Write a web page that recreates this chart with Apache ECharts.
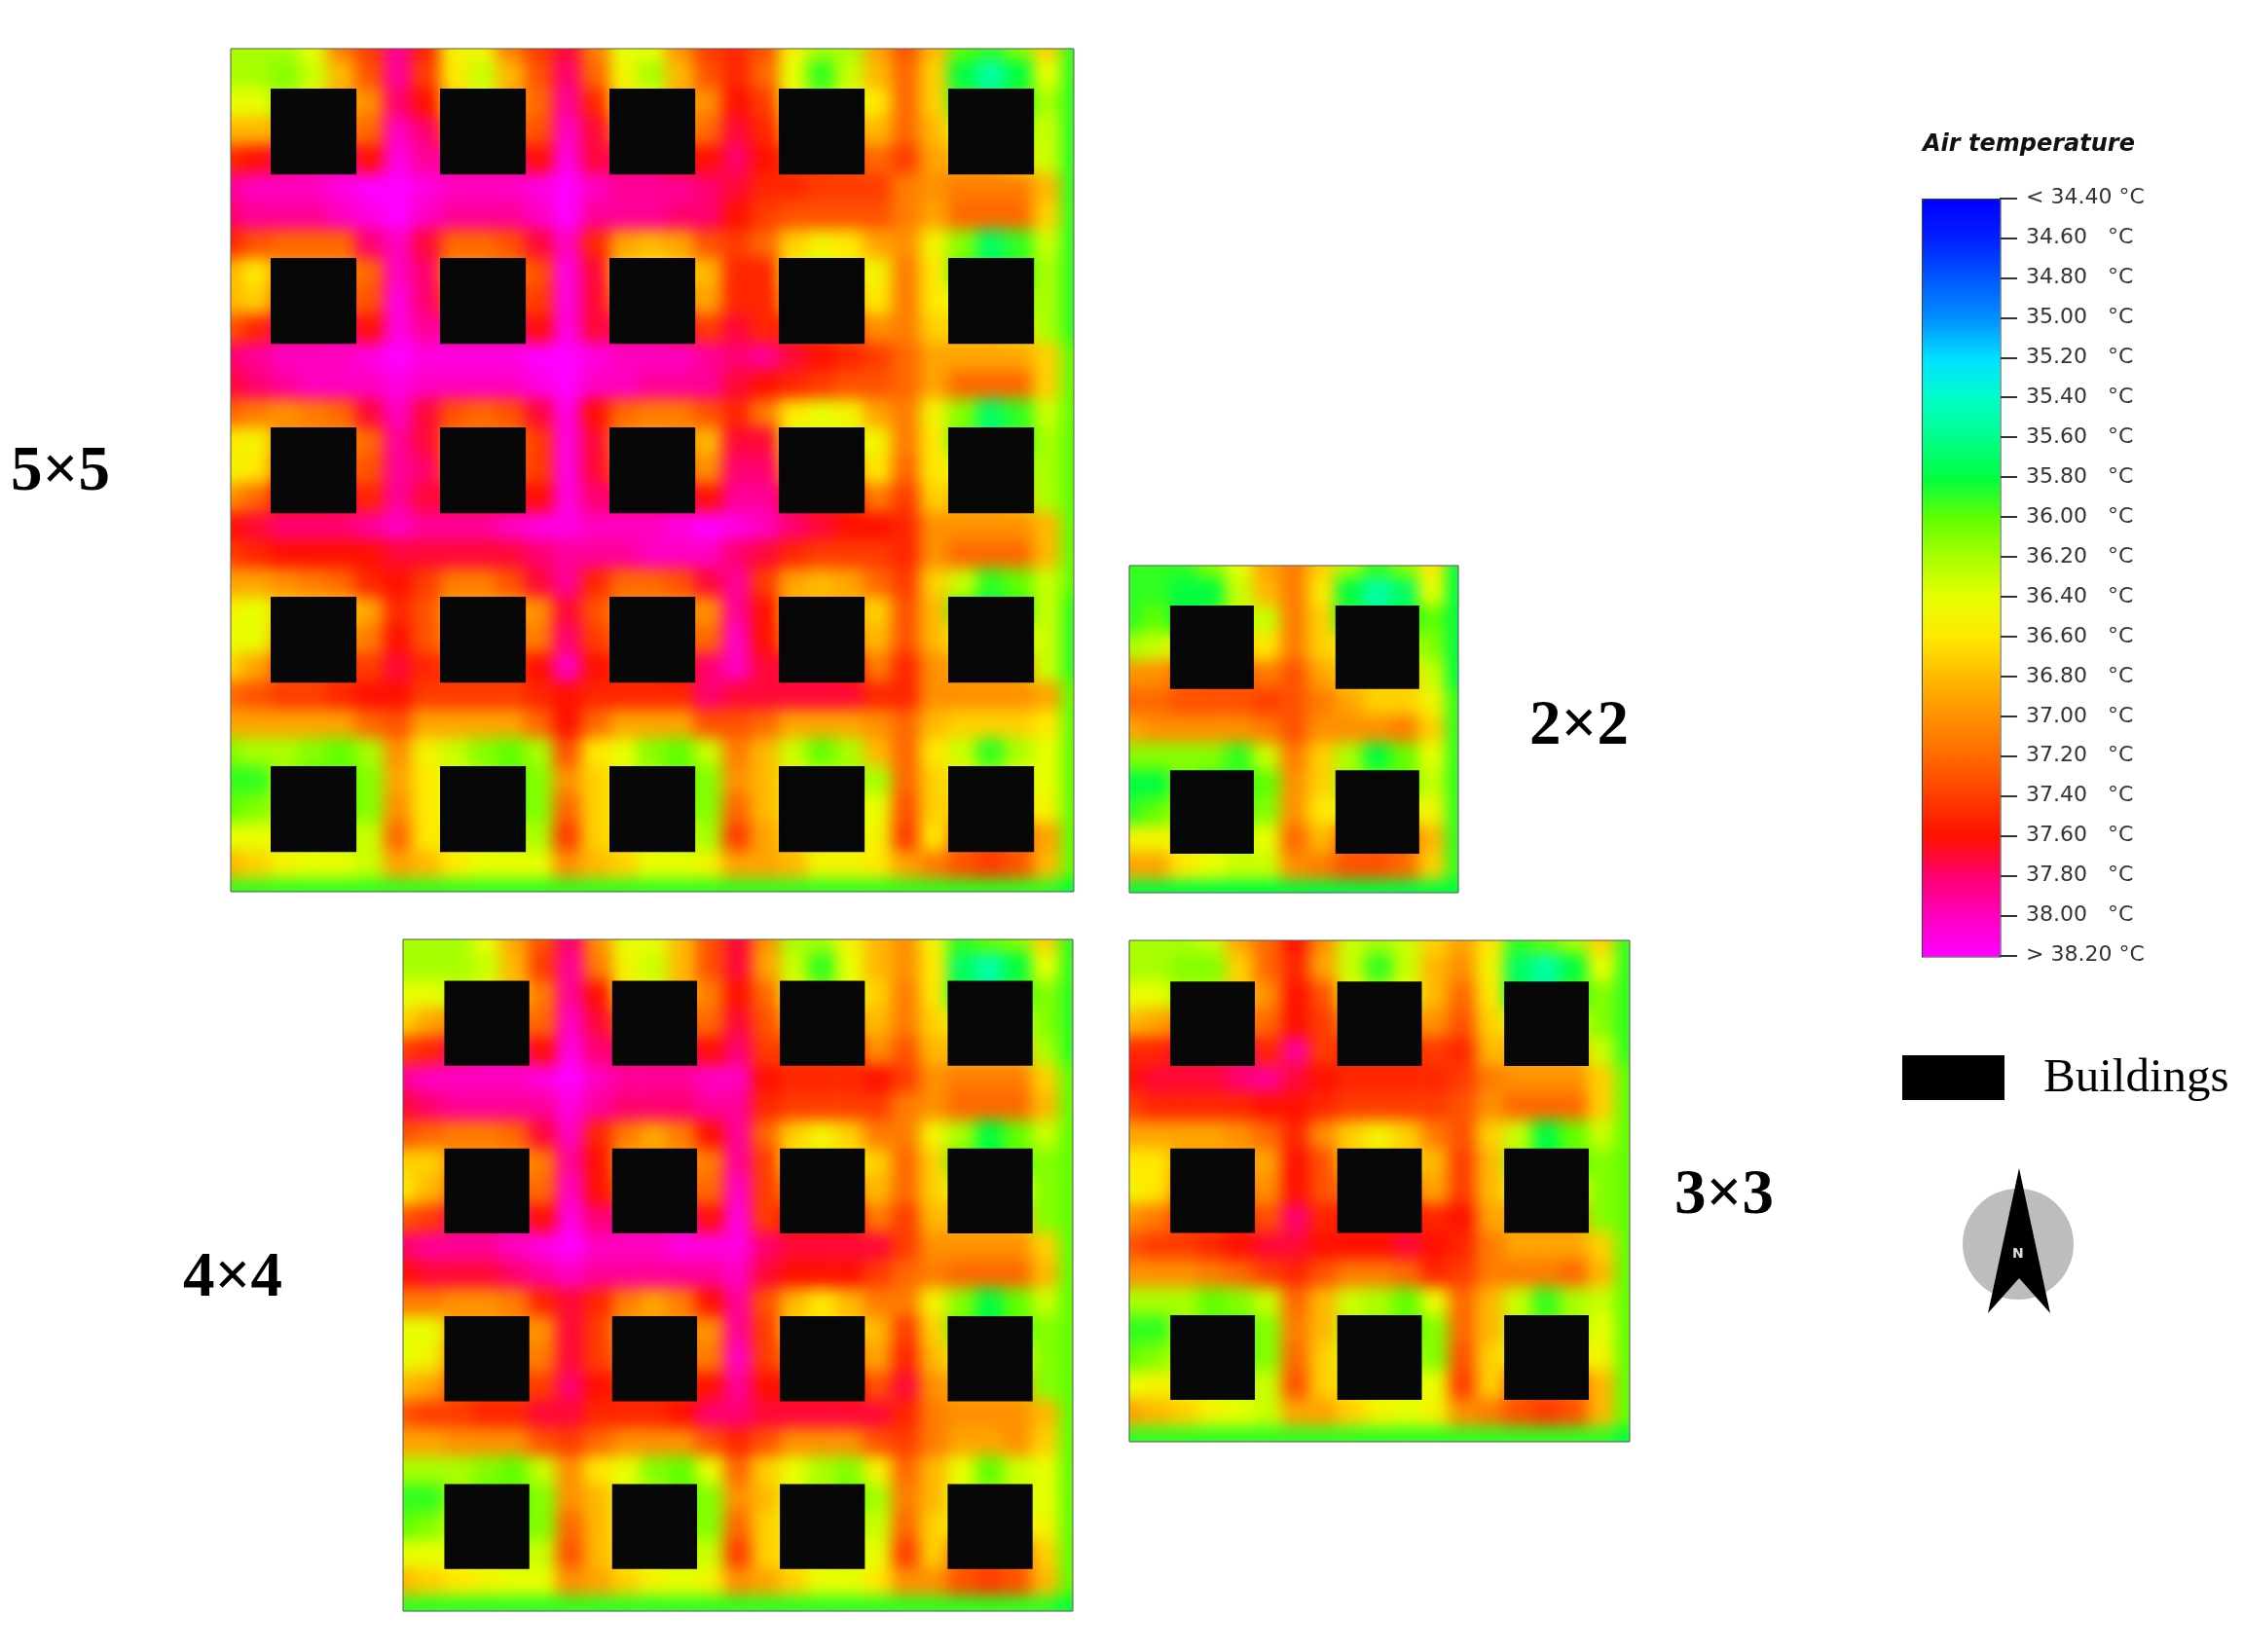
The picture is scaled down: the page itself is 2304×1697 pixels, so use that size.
<!DOCTYPE html>
<html>
<head>
<meta charset="utf-8">
<script src="https://cdn.jsdelivr.net/npm/echarts@6/dist/echarts.min.js"></script>
<style>
  html, body { margin: 0; padding: 0; background: #fff; }
  #clip { position: absolute; left: 0; top: 0; width: 2304px; height: 1697px;
    clip-path: path('M237 50H1103V916H237Z M414 965H1102V1655H414Z M1160 581H1498V917H1160Z M1160 966H1674V1481H1160Z'); }
  #heat { width: 2304px; height: 1697px; filter: blur(8px); }
  #top { position: absolute; left: 0; top: 0; width: 2304px; height: 1697px; }
</style>
</head>
<body>
<div id="clip"><div id="heat"></div></div>
<div id="top"></div>
<script>
// colour scale, one colour per tick of the legend
const tickLabels = ['< 34.40 °C','34.60   °C','34.80   °C','35.00   °C','35.20   °C','35.40   °C','35.60   °C','35.80   °C','36.00   °C','36.20   °C','36.40   °C','36.60   °C','36.80   °C','37.00   °C','37.20   °C','37.40   °C','37.60   °C','37.80   °C','38.00   °C','> 38.20 °C'];
const rampColors = ['#0000ff','#0020ff','#0058ff','#0090ff','#00e0ff','#00ffc8','#00ff88','#00ff40','#60ff00','#a8ff00','#e8ff00','#ffe800','#ffb800','#ff9000','#ff6800','#ff3c00','#ff1000','#ff0070','#ff00c0','#ff00ff'];
const tempMin = 34.4;
const tempMax = 38.2;

// air temperature, rows from the north edge, cells of a third of a building
const temp5x5 = [
  [36.2,36.2,36.2,36.4,37.1,37.4,37.9,37.5,36.5,36.5,37.1,37.4,37.7,37.1,36.4,36.4,37.0,37.4,37.5,37.3,36.5,36.2,36.2,36.9,37.3,36.8,36.0,35.9,36.1,36.7,35.9],
  [36.2,36.2,36.1,36.3,36.8,37.3,37.9,37.4,36.6,36.3,36.8,37.3,37.8,37.2,36.5,36.2,36.8,37.3,37.5,37.2,36.4,35.9,36.3,36.8,37.2,36.7,35.8,35.5,35.8,36.4,35.9],
  [36.4,36.4,36.2,36.5,36.9,37.0,37.8,37.6,36.7,36.4,36.9,37.2,37.9,37.5,36.6,36.4,36.9,37.0,37.6,37.4,36.5,36.1,36.4,36.6,37.2,36.7,35.9,35.7,35.9,36.2,35.9],
  [36.8,36.8,36.9,37.0,37.1,37.2,38.0,37.8,37.2,37.2,37.2,37.3,38.0,37.7,37.0,37.0,37.0,37.2,37.7,37.5,36.9,36.9,36.9,36.8,37.2,36.8,36.4,36.4,36.2,36.3,35.9],
  [37.5,37.6,37.8,37.9,37.9,37.6,38.1,37.9,37.9,37.9,37.9,37.6,38.1,37.7,37.8,37.8,37.6,37.6,37.8,37.6,37.4,37.4,37.3,37.2,37.4,36.9,36.8,36.8,36.6,36.3,35.9],
  [37.9,38.0,38.0,38.0,38.1,38.2,38.2,38.1,38.0,38.0,38.0,38.1,38.2,38.0,37.9,37.9,37.9,37.8,37.7,37.5,37.5,37.4,37.4,37.4,37.1,37.0,37.1,37.1,37.1,36.8,35.9],
  [37.8,37.9,37.9,37.9,38.0,38.1,38.2,38.0,37.9,37.9,37.9,38.0,38.2,37.9,37.9,37.9,37.8,37.8,37.6,37.4,37.3,37.3,37.3,37.3,37.1,36.9,37.2,37.2,37.2,36.7,35.9],
  [37.5,37.3,37.2,37.2,37.2,37.8,38.0,37.7,37.2,37.2,37.3,37.7,38.0,37.5,36.9,36.8,36.9,37.3,37.4,37.2,36.7,36.5,36.6,36.9,37.0,36.5,36.1,35.7,35.9,36.3,35.9],
  [36.8,36.6,37.0,37.0,37.0,37.2,38.0,37.8,37.0,37.0,37.1,37.3,38.1,37.7,36.7,36.6,36.7,36.8,37.5,37.5,36.5,36.4,36.5,36.5,37.1,36.6,36.0,35.7,35.9,36.2,35.9],
  [36.8,36.7,37.2,37.2,37.2,37.3,38.1,37.8,37.3,37.3,37.3,37.4,38.1,37.7,37.0,37.0,37.0,36.9,37.5,37.5,36.8,36.8,36.8,36.6,37.1,36.6,36.4,36.4,36.2,36.2,35.9],
  [37.3,37.5,37.8,37.8,37.9,37.6,38.1,37.9,37.9,37.9,37.9,37.6,38.1,37.7,37.8,37.8,37.7,37.4,37.7,37.5,37.5,37.4,37.3,37.0,37.1,36.7,36.7,36.7,36.6,36.2,35.9],
  [37.8,37.9,38.0,38.0,38.0,38.1,38.2,38.1,38.1,38.1,38.1,38.2,38.2,38.1,38.0,38.0,38.0,37.9,37.8,37.9,37.7,37.6,37.5,37.4,37.2,36.9,36.9,36.9,36.9,36.7,36.0],
  [37.7,37.8,37.9,38.0,38.0,38.0,38.1,38.0,38.0,38.0,38.0,38.1,38.2,38.0,38.0,37.9,37.9,37.9,37.7,37.6,37.5,37.4,37.3,37.3,37.2,36.9,37.2,37.2,37.2,36.7,36.0],
  [37.2,37.1,37.0,37.1,37.2,37.7,38.0,37.7,37.3,37.2,37.3,37.7,38.1,37.6,37.2,37.1,37.1,37.3,37.5,37.1,36.6,36.4,36.5,36.9,37.1,36.5,36.1,35.7,35.9,36.3,36.0],
  [36.6,36.5,37.0,37.0,37.0,37.2,37.9,37.7,37.1,37.1,37.1,37.4,38.1,37.7,37.0,36.9,37.0,36.8,37.7,37.7,36.4,36.4,36.4,36.5,37.1,36.6,36.0,35.6,35.9,36.2,36.0],
  [36.5,36.6,37.2,37.2,37.2,37.3,37.9,37.8,37.2,37.2,37.2,37.4,38.1,37.7,37.2,37.2,37.2,37.0,37.8,37.8,36.9,36.9,36.9,36.6,37.2,36.6,36.4,36.4,36.2,36.2,36.0],
  [37.0,37.2,37.6,37.6,37.7,37.5,37.9,37.7,37.7,37.7,37.7,37.6,38.1,37.8,37.8,37.8,37.8,37.6,37.9,37.9,37.7,37.6,37.5,37.1,37.4,36.7,36.8,36.8,36.7,36.2,36.0],
  [37.6,37.7,37.8,37.8,37.8,37.9,38.0,37.9,37.9,37.9,38.0,38.1,38.1,38.0,38.0,38.0,38.1,38.2,38.1,38.0,37.8,37.7,37.6,37.6,37.5,37.0,37.0,37.0,37.0,36.8,36.0],
  [37.4,37.5,37.6,37.6,37.6,37.6,37.7,37.7,37.7,37.7,37.7,37.8,37.9,37.9,37.9,38.0,38.0,38.0,37.8,37.7,37.5,37.4,37.4,37.4,37.5,37.0,37.2,37.2,37.2,36.8,36.0],
  [36.9,36.9,37.0,37.1,37.2,37.5,37.6,37.4,37.1,37.1,37.3,37.7,37.9,37.5,37.2,37.2,37.3,37.7,37.9,37.4,36.9,36.8,36.9,37.2,37.4,36.7,36.3,35.9,36.0,36.3,36.0],
  [36.5,36.4,36.7,36.7,36.7,36.9,37.5,37.3,36.9,36.9,36.9,37.0,37.7,37.3,37.0,37.0,37.0,37.0,37.9,37.6,36.8,36.8,36.8,36.7,37.3,36.8,36.0,35.7,35.9,36.3,35.9],
  [36.4,36.4,36.9,37.0,37.0,37.1,37.6,37.3,37.0,37.1,37.1,37.1,37.8,37.4,37.2,37.2,37.2,37.2,38.0,37.6,37.0,37.0,37.0,36.8,37.3,36.8,36.5,36.5,36.4,36.3,35.9],
  [36.7,36.9,37.3,37.3,37.4,37.4,37.7,37.5,37.4,37.4,37.4,37.6,38.0,37.6,37.5,37.5,37.6,37.8,38.0,37.7,37.7,37.7,37.6,37.1,37.5,37.0,36.9,36.9,36.9,36.3,35.9],
  [37.2,37.3,37.4,37.4,37.5,37.6,37.6,37.4,37.4,37.4,37.4,37.5,37.6,37.5,37.5,37.5,37.5,37.8,37.7,37.7,37.7,37.7,37.7,37.5,37.5,37.0,37.0,37.0,37.0,36.9,36.0],
  [36.9,36.9,36.9,36.9,36.9,37.2,37.3,36.9,36.9,36.9,36.9,37.2,37.6,37.2,36.9,36.9,36.9,37.3,37.3,37.2,36.9,36.9,36.9,37.0,37.2,36.8,36.7,36.7,36.7,36.6,36.0],
  [36.1,36.2,36.2,36.1,36.0,36.2,37.0,36.5,36.3,36.1,36.0,36.2,37.3,36.6,36.4,36.1,36.0,36.3,37.1,36.8,36.3,36.0,36.2,36.8,37.2,36.6,36.3,35.9,36.2,36.4,36.0],
  [35.9,35.9,36.2,36.0,36.0,36.1,36.9,36.6,36.4,36.2,36.0,36.1,37.0,36.7,36.5,36.2,36.0,36.1,37.0,36.8,36.5,36.3,36.2,36.2,37.2,36.7,36.5,36.2,36.4,36.4,36.0],
  [36.0,36.1,36.2,36.2,36.0,36.1,37.0,36.6,36.4,36.4,36.0,36.1,37.2,36.7,36.5,36.5,36.1,36.1,37.2,36.8,36.6,36.5,36.4,36.4,37.3,36.7,36.7,36.7,36.6,36.5,36.0],
  [36.4,36.4,36.4,36.4,36.3,36.3,37.2,36.6,36.5,36.4,36.3,36.2,37.4,36.7,36.6,36.4,36.3,36.2,37.4,36.9,36.7,36.5,36.5,36.5,37.4,36.6,37.2,37.3,37.2,36.9,36.0],
  [36.8,36.7,36.5,36.4,36.4,36.3,36.9,36.8,36.6,36.4,36.4,36.4,37.0,36.8,36.7,36.4,36.4,36.5,36.9,36.9,36.8,36.5,36.5,36.6,36.9,37.1,37.3,37.4,37.3,36.8,36.0],
  [35.9,35.9,35.9,35.9,35.9,35.9,35.9,35.9,35.9,35.9,35.9,35.9,35.9,35.9,35.9,35.9,35.9,35.9,35.9,35.9,35.9,35.9,35.9,35.9,35.9,35.9,35.9,35.9,35.9,35.9,35.8]
];
const temp4x4 = [
  [36.2,36.2,36.2,36.4,36.9,37.3,37.8,37.0,36.4,36.4,36.8,37.3,37.7,37.0,36.2,36.2,36.5,36.8,37.0,36.5,35.9,36.0,36.1,36.7,35.9],
  [36.2,36.2,36.2,36.3,36.8,37.4,37.9,37.1,36.5,36.3,36.8,37.3,37.7,36.9,36.3,35.9,36.4,36.8,37.0,36.6,35.7,35.5,35.8,36.4,35.9],
  [36.4,36.4,36.3,36.4,36.8,37.1,37.9,37.6,36.6,36.4,36.8,37.1,37.6,37.2,36.4,36.1,36.4,36.7,37.1,36.6,35.8,35.6,35.9,36.1,35.9],
  [36.7,36.9,37.1,37.1,37.2,37.2,38.0,37.7,37.2,37.2,37.2,37.2,37.7,37.3,36.9,36.9,36.9,36.8,37.1,36.7,36.4,36.4,36.3,36.1,35.9],
  [37.4,37.5,37.8,37.9,37.9,37.6,38.1,37.8,37.8,37.8,37.8,37.6,37.8,37.4,37.4,37.4,37.4,37.0,37.3,36.8,36.8,36.8,36.8,36.2,35.9],
  [37.9,38.0,38.0,38.0,38.0,38.1,38.2,38.0,37.9,37.9,37.9,38.0,38.0,37.6,37.5,37.5,37.5,37.6,37.4,37.0,37.1,37.1,37.1,36.7,36.0],
  [37.7,37.8,37.9,37.9,37.9,37.9,38.1,37.9,37.8,37.8,37.8,37.9,37.9,37.5,37.4,37.4,37.4,37.4,37.1,37.0,37.2,37.2,37.2,36.8,36.0],
  [37.3,37.2,37.1,37.1,37.2,37.7,38.0,37.5,37.1,36.9,37.1,37.6,37.9,37.2,36.7,36.5,36.7,37.1,37.1,36.5,36.2,35.8,36.0,36.3,36.0],
  [36.7,36.7,37.0,37.0,37.0,37.1,37.9,37.6,36.9,36.9,37.0,37.1,37.9,37.4,36.6,36.5,36.6,36.7,37.2,36.7,36.0,35.8,36.0,36.1,36.0],
  [36.6,36.8,37.2,37.2,37.2,37.2,38.0,37.6,37.2,37.2,37.2,37.2,38.0,37.4,37.0,37.0,37.0,36.8,37.2,36.7,36.4,36.4,36.4,36.1,36.0],
  [37.3,37.4,37.8,37.8,37.9,37.6,38.1,37.8,37.9,37.9,38.0,37.6,38.1,37.4,37.6,37.6,37.6,37.1,37.4,36.8,36.8,36.8,36.8,36.1,36.0],
  [37.8,37.9,37.9,37.9,38.0,38.1,38.2,38.0,38.0,38.0,38.1,38.1,38.1,37.8,37.7,37.7,37.7,37.7,37.4,37.0,37.0,37.0,37.0,36.7,36.0],
  [37.6,37.7,37.7,37.7,37.8,37.9,38.0,37.9,37.9,37.9,37.9,37.9,38.0,37.7,37.6,37.6,37.6,37.4,37.2,37.1,37.2,37.2,37.2,36.8,36.0],
  [37.1,37.1,37.0,37.0,37.1,37.5,37.7,37.5,37.1,36.9,37.1,37.6,37.9,37.3,36.8,36.6,36.8,37.1,37.1,36.5,36.1,35.8,36.0,36.3,36.0],
  [36.4,36.4,36.9,36.9,37.0,37.0,37.7,37.4,36.9,36.9,37.0,37.0,37.9,37.4,36.7,36.6,36.7,36.8,37.4,36.7,36.0,35.8,36.0,36.1,36.0],
  [36.4,36.5,37.1,37.1,37.1,37.1,37.7,37.4,37.1,37.1,37.1,37.1,38.0,37.4,37.1,37.1,37.1,36.9,37.5,36.8,36.5,36.5,36.5,36.1,36.0],
  [36.8,36.9,37.3,37.4,37.4,37.4,37.8,37.6,37.5,37.5,37.5,37.6,37.9,37.6,37.6,37.6,37.6,37.3,37.7,37.0,36.9,36.9,36.9,36.1,36.0],
  [37.3,37.4,37.4,37.5,37.5,37.7,37.7,37.5,37.5,37.5,37.6,37.8,37.8,37.7,37.7,37.7,37.7,37.7,37.5,37.1,37.0,37.0,37.0,36.8,36.0],
  [36.9,36.9,37.0,37.0,37.0,37.3,37.4,37.2,37.0,37.0,37.0,37.3,37.5,37.3,37.0,37.0,37.0,37.3,37.4,37.1,36.9,36.9,37.0,36.7,36.0],
  [36.2,36.2,36.2,36.1,36.0,36.3,37.0,36.6,36.4,36.1,36.0,36.4,37.2,36.7,36.4,36.2,36.1,36.5,37.2,36.8,36.4,36.0,36.3,36.4,36.0],
  [35.9,35.9,36.2,36.0,36.0,36.1,37.0,36.8,36.4,36.2,36.0,36.1,37.0,36.8,36.4,36.2,36.0,36.2,37.1,36.8,36.4,36.1,36.3,36.4,36.0],
  [36.0,36.1,36.3,36.2,36.0,36.1,37.2,36.8,36.5,36.4,36.1,36.1,37.2,36.7,36.5,36.4,36.2,36.3,37.2,36.7,36.5,36.5,36.5,36.5,36.0],
  [36.4,36.4,36.4,36.4,36.3,36.3,37.3,36.8,36.6,36.4,36.3,36.3,37.4,36.7,36.6,36.4,36.3,36.4,37.4,36.7,37.2,37.3,37.2,36.7,36.0],
  [36.8,36.7,36.6,36.5,36.4,36.4,37.0,36.9,36.7,36.5,36.4,36.5,37.0,36.9,36.7,36.4,36.4,36.6,37.0,37.0,37.3,37.4,37.3,36.8,36.0],
  [35.9,35.9,35.9,35.9,35.9,35.9,35.9,35.9,35.9,35.9,35.9,35.9,35.9,35.9,35.9,35.9,35.9,35.9,35.9,35.9,35.9,35.9,35.9,35.9,35.8]
];
const temp3x3 = [
  [36.2,36.2,36.2,36.3,36.9,37.2,37.6,37.0,36.3,36.2,36.3,36.7,36.9,36.6,35.9,36.0,36.2,36.7,35.9],
  [36.2,36.2,36.1,36.1,36.7,37.2,37.5,36.9,36.3,35.9,36.3,36.8,37.0,36.5,35.7,35.5,35.8,36.4,35.9],
  [36.4,36.4,36.2,36.2,36.7,37.0,37.6,37.3,36.4,36.2,36.4,36.8,37.2,36.6,35.8,35.6,35.9,36.1,35.9],
  [36.8,36.9,37.1,37.1,37.1,37.2,37.6,37.4,37.0,37.0,37.0,37.0,37.3,36.7,36.4,36.4,36.3,36.1,35.9],
  [37.5,37.5,37.7,37.7,37.8,37.5,37.9,37.4,37.5,37.5,37.5,37.4,37.5,36.8,36.8,36.8,36.8,36.3,35.9],
  [37.6,37.7,37.7,37.7,37.8,37.9,37.7,37.6,37.5,37.5,37.5,37.5,37.4,37.1,37.0,37.0,37.0,36.7,36.0],
  [37.4,37.5,37.5,37.5,37.5,37.6,37.6,37.5,37.4,37.4,37.4,37.4,37.3,37.0,37.2,37.2,37.2,36.7,36.0],
  [36.9,36.9,36.9,36.9,37.0,37.2,37.5,37.0,36.7,36.5,36.7,37.1,37.3,36.7,36.3,35.8,36.0,36.3,36.0],
  [36.6,36.6,36.9,36.9,36.9,36.9,37.6,37.3,36.7,36.6,36.7,36.8,37.4,36.8,36.2,35.8,36.0,36.1,36.0],
  [36.5,36.6,37.1,37.1,37.1,37.0,37.6,37.3,37.1,37.1,37.1,36.9,37.4,36.8,36.5,36.5,36.5,36.1,36.0],
  [37.0,37.1,37.4,37.4,37.5,37.3,37.8,37.5,37.6,37.6,37.6,37.5,37.6,36.9,36.9,36.9,36.9,36.1,36.0],
  [37.3,37.4,37.4,37.5,37.6,37.7,37.7,37.6,37.6,37.6,37.7,37.6,37.5,37.1,36.9,36.9,36.9,36.7,36.0],
  [37.0,37.0,37.0,37.1,37.2,37.4,37.5,37.3,37.1,37.1,37.2,37.5,37.4,37.1,37.1,37.1,37.2,36.8,36.0],
  [36.2,36.2,36.2,36.0,36.1,36.3,37.2,36.8,36.3,36.2,36.0,36.4,37.2,36.8,36.3,35.9,36.2,36.3,36.0],
  [35.9,35.9,36.2,36.0,36.0,36.1,37.1,36.8,36.3,36.2,36.0,36.1,37.2,36.8,36.3,36.0,36.2,36.4,36.0],
  [36.0,36.1,36.3,36.2,36.0,36.1,37.2,36.7,36.4,36.4,36.2,36.1,37.3,36.7,36.5,36.5,36.5,36.5,36.0],
  [36.4,36.5,36.5,36.4,36.3,36.3,37.3,36.7,36.6,36.4,36.4,36.4,37.4,36.7,37.2,37.3,37.2,36.8,36.0],
  [36.9,36.8,36.7,36.5,36.4,36.3,36.9,36.9,36.7,36.5,36.4,36.5,37.0,37.1,37.3,37.4,37.3,36.8,36.0],
  [35.9,35.9,35.9,35.9,35.9,35.9,35.9,35.9,35.9,35.9,35.9,35.9,35.9,35.9,35.9,35.9,35.9,35.9,35.8]
];
const temp2x2 = [
  [35.9,35.9,35.9,36.1,36.4,36.9,37.1,36.7,36.2,35.9,36.1,36.6,35.8],
  [35.9,35.9,35.8,35.8,36.3,36.8,37.1,36.6,35.8,35.5,35.7,36.4,35.8],
  [35.9,36.0,35.8,35.9,36.3,36.3,37.1,36.7,35.9,35.6,35.8,36.0,35.8],
  [36.2,36.3,36.6,36.6,36.7,36.6,37.1,36.7,36.5,36.4,36.3,36.1,35.8],
  [37.0,37.0,37.2,37.3,37.3,37.1,37.3,36.9,36.7,36.7,36.7,36.3,35.8],
  [37.2,37.2,37.3,37.3,37.3,37.4,37.3,37.1,36.9,36.7,36.7,36.5,35.9],
  [36.9,37.0,37.0,37.0,37.0,37.1,37.3,37.0,37.0,37.0,37.1,36.7,35.9],
  [36.1,36.1,36.1,36.1,35.9,36.3,37.1,36.7,36.2,35.8,36.0,36.4,35.9],
  [35.8,35.8,36.1,35.9,35.9,36.0,37.0,36.7,36.2,36.0,36.0,36.3,35.9],
  [35.9,36.0,36.2,36.2,36.0,36.1,37.0,36.6,36.4,36.4,36.4,36.5,35.9],
  [36.5,36.5,36.5,36.4,36.3,36.4,37.2,36.8,37.2,37.3,37.2,36.8,35.9],
  [36.9,36.9,36.6,36.4,36.3,36.3,37.0,37.1,37.3,37.3,37.2,36.7,35.9],
  [35.8,35.8,35.8,35.8,35.8,35.8,35.8,35.8,35.8,35.8,35.8,35.8,35.8]
];
const panelNames = ['5×5', '4×4', '3×3', '2×2'];
const panelBuildings = [5, 4, 3, 2];

const panels = [
  {temp: temp5x5, n: 5, grid: {left: 220, top: 33, width: 899, height: 899}, box: [237, 50, 866, 866]},
  {temp: temp4x4, n: 4, grid: {left: 399, top: 950, width: 718, height: 718}, box: [414, 965, 688, 690]},
  {temp: temp3x3, n: 3, grid: {left: 1145, top: 951, width: 543, height: 543}, box: [1160, 966, 514, 515]},
  {temp: temp2x2, n: 2, grid: {left: 1145.3, top: 565.7, width: 368, height: 366.6}, box: [1160, 581, 338, 336]}
];

function range(n) {
  return Array.from({length: n}, (_, i) => i);
}

// heat layer, blurred by the page css
const heatChart = echarts.init(document.getElementById('heat'));
heatChart.setOption({
  animation: false,
  grid: panels.map(p => p.grid),
  xAxis: panels.map((p, i) => ({type: 'category', gridIndex: i, show: false, data: range(p.temp[0].length)})),
  yAxis: panels.map((p, i) => ({type: 'category', gridIndex: i, show: false, inverse: true, data: range(p.temp.length)})),
  visualMap: {show: false, min: tempMin, max: tempMax, inRange: {color: rampColors}, seriesIndex: [0, 1, 2, 3]},
  series: panels.map((p, i) => {
    const cells = [];
    p.temp.forEach((row, y) => row.forEach((v, x) => cells.push([x, y, v])));
    return {type: 'heatmap', xAxisIndex: i, yAxisIndex: i, data: cells, progressive: 0, itemStyle: {borderWidth: 0}};
  })
});

// buildings start two cells in, then one every six cells
function buildingData(n) {
  const out = [];
  for (let j = 0; j < n; j++) {
    for (let i = 0; i < n; i++) {
      out.push([2 + 6 * i, 2 + 6 * j]);
    }
  }
  return out;
}

function renderBuilding(params, api) {
  const a = api.coord([api.value(0), api.value(1)]);
  const b = api.coord([api.value(0) + 3.04, api.value(1) + 3.04]);
  return {type: 'rect', shape: {x: a[0], y: a[1], width: b[0] - a[0], height: b[1] - a[1]}, style: {fill: '#070707'}};
}

function textItem(text, x, y, size, extra) {
  return {type: 'text', left: x, top: y, silent: true,
    style: Object.assign({text: text, fontSize: size, fill: '#000', fontFamily: 'Liberation Serif'}, extra)};
}

const topChart = echarts.init(document.getElementById('top'));
topChart.setOption({
  animation: false,
  backgroundColor: 'transparent',
  grid: panels.map(p => p.grid).concat([{left: 2054, top: 203.5, width: 1, height: 778}]),
  xAxis: panels.map((p, i) => ({type: 'value', gridIndex: i, show: false, min: 0, max: p.temp[0].length}))
    .concat([{type: 'value', gridIndex: 4, show: false}]),
  yAxis: panels.map((p, i) => ({type: 'value', gridIndex: i, show: false, inverse: true, min: 0, max: p.temp.length}))
    .concat([{
      type: 'category', gridIndex: 4, position: 'right', inverse: true, boundaryGap: false, data: tickLabels,
      axisLine: {show: false},
      axisTick: {show: true, length: 18, lineStyle: {color: '#333', width: 2}},
      axisLabel: {show: true, interval: 0, margin: 26, fontSize: 22, color: '#333', fontFamily: 'DejaVu Sans'}
    }]),
  visualMap: {
    show: true, seriesIndex: [], min: tempMin, max: tempMax, inverse: true, calculable: false,
    left: 1974, top: 204, itemWidth: 80, itemHeight: 778, padding: 0, text: null, showLabel: false,
    borderColor: '#333', borderWidth: 1.5,
    inRange: {color: rampColors}
  },
  series: panels.map((p, i) => ({
    type: 'custom', xAxisIndex: i, yAxisIndex: i, clip: false,
    data: buildingData(panelBuildings[i]), renderItem: renderBuilding
  })),
  graphic: panels.map(p => ({
    type: 'rect', silent: true, shape: {x: p.box[0], y: p.box[1], width: p.box[2], height: p.box[3]},
    style: {fill: 'none', stroke: '#555', lineWidth: 1}
  })).concat([
    textItem(panelNames[0], 11, 454, 65, {fontWeight: 'bold'}),
    textItem(panelNames[1], 188, 1282, 65, {fontWeight: 'bold'}),
    textItem(panelNames[2], 1720, 1197, 65, {fontWeight: 'bold'}),
    textItem(panelNames[3], 1571, 715, 65, {fontWeight: 'bold'}),
    textItem('Air temperature', 1975, 137, 24, {fontFamily: 'DejaVu Sans', fontWeight: 'bold', fontStyle: 'italic', fill: '#111'}),
    // legend swatch for buildings
    {type: 'rect', silent: true, shape: {x: 1954, y: 1084, width: 105, height: 46}, style: {fill: '#000'}},
    textItem('Buildings', 2099, 1084, 49, {}),
    // north arrow
    {type: 'circle', silent: true, shape: {cx: 2073, cy: 1278, r: 57}, style: {fill: '#bdbdbd'}},
    {type: 'polygon', silent: true, shape: {points: [[2074, 1200], [2106, 1349], [2074, 1313], [2042, 1349]]}, style: {fill: '#000'}},
    {type: 'text', silent: true, left: 2067, top: 1281, style: {text: 'N', fontSize: 14, fontWeight: 'bold', fill: '#ddd', fontFamily: 'DejaVu Sans'}}
  ])
});
</script>
</body>
</html>
